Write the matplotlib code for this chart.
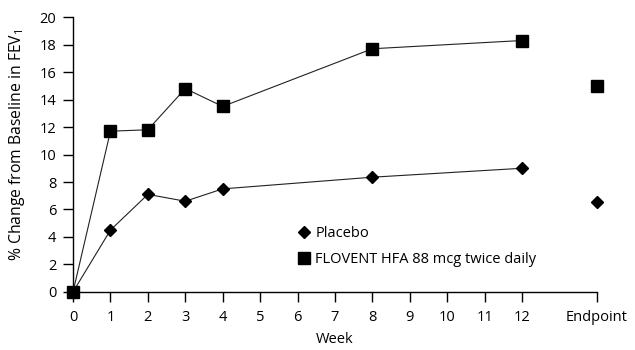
import matplotlib
matplotlib.use("Agg")
import matplotlib.pyplot as plt
from matplotlib.lines import Line2D

plt.rcParams['font.family'] = ['Open Sans', 'DejaVu Sans']
plt.rcParams['mathtext.fontset'] = 'custom'
plt.rcParams['mathtext.rm'] = 'Open Sans'
plt.rcParams['mathtext.it'] = 'Open Sans'

weeks = [0, 1, 2, 3, 4, 8, 12]
placebo = [0, 4.5, 7.1, 6.6, 7.5, 8.35, 9.0]
flovent = [0, 11.7, 11.8, 14.8, 13.5, 17.7, 18.3]
endpoint_x = 14
placebo_end = 6.55
flovent_end = 15.0
xtick_pos = list(range(0, 13)) + [14]
xtick_labels = [str(i) for i in range(0, 13)] + ['Endpoint']
yticks = list(range(0, 21, 2))

FS = 10.5
MS_SQ = 8.0
MS_D = 6.2

fig = plt.figure(figsize=(6.35, 3.5), dpi=100)
ax = fig.add_axes([0.115, 0.166, 0.825, 0.785])

ax.plot(weeks, placebo, color='#222222', lw=0.8, marker='D', ms=MS_D,
        mfc='black', mec='black', zorder=3)
ax.plot(weeks, flovent, color='#222222', lw=0.8, marker='s', ms=MS_SQ,
        mfc='black', mec='black', zorder=4)
ax.plot([endpoint_x], [placebo_end], ls='none', marker='D', ms=MS_D, color='black')
ax.plot([endpoint_x], [flovent_end], ls='none', marker='s', ms=MS_SQ, color='black')

ax.set_xlim(0, 14)
ax.set_ylim(0, 20)
ax.set_xticks(xtick_pos)
ax.set_xticklabels(xtick_labels)
ax.set_yticks(yticks)
for s in ['top', 'right']:
    ax.spines[s].set_visible(False)
for s in ['left', 'bottom']:
    ax.spines[s].set_linewidth(1.0)
ax.tick_params(axis='both', direction='out', length=7.5, width=1.0, labelsize=FS)
ax.tick_params(axis='x', pad=5.5)
ax.tick_params(axis='y', pad=4.5)
for sp in ax.spines.values():
    sp.set_clip_on(False)
for line in ax.lines:
    line.set_clip_on(False)

ax.set_xlabel('Week', fontsize=FS, labelpad=5)
ax.set_ylabel('% Change from Baseline in FEV$_1$', fontsize=11.3)
ax.yaxis.set_label_coords(-0.088, 0.535)

handles = [Line2D([], [], ls='none', marker='D', ms=MS_D, color='black'),
           Line2D([], [], ls='none', marker='s', ms=MS_SQ, color='black')]
ax.legend(handles, ['Placebo', 'FLOVENT HFA 88 mcg twice daily'], loc='upper left',
          bbox_to_anchor=(0.415, 0.26), frameon=False, fontsize=FS,
          handlelength=1.0, handletextpad=0.3, labelspacing=0.72, borderaxespad=0)

fig.savefig('out.png', dpi=100)
